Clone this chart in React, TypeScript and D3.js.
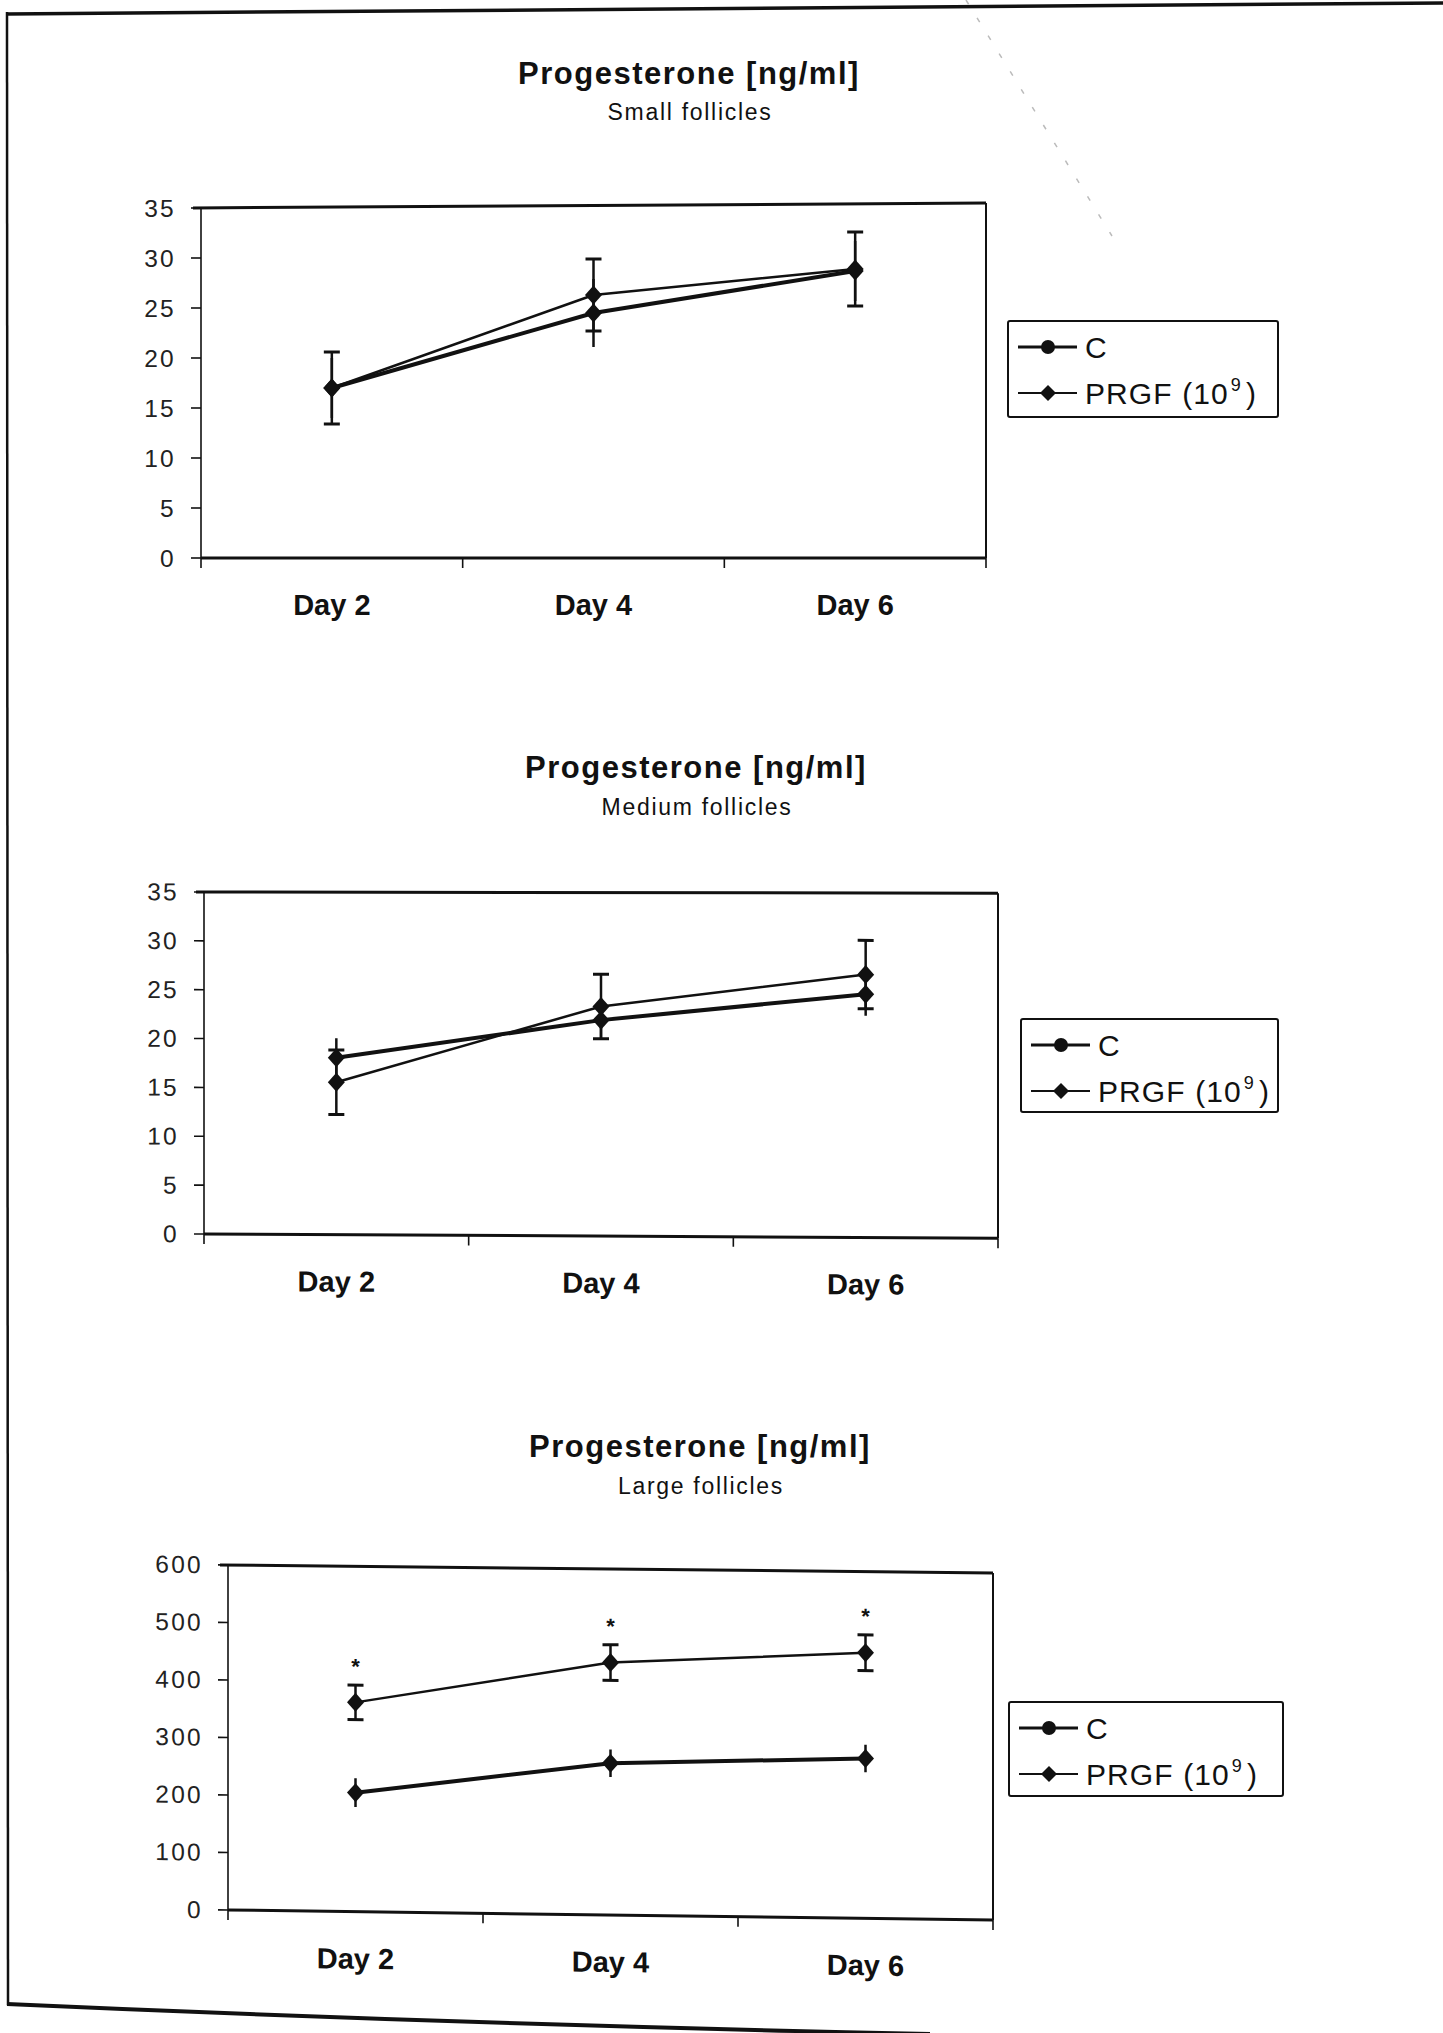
import React from 'react';
import * as d3 from 'd3';

const categories = ['Day 2', 'Day 4', 'Day 6'];

const smallC = [17.0, 24.5, 28.7];
const smallCErr = [3.0, 3.4, 3.0];
const smallPRGF = [17.0, 26.3, 28.9];
const smallPRGFErr = [3.6, 3.6, 3.7];

const mediumC = [18.1, 22.1, 24.9];
const mediumCErr = [2.0, 2.0, 2.2];
const mediumPRGF = [15.6, 23.5, 26.9];
const mediumPRGFErr = [3.3, 3.3, 3.5];

const largeC = [207, 264, 278];
const largeCErr = [25, 24, 24];
const largePRGF = [364, 439, 462];
const largePRGFErr = [30, 31, 31];
const largeSignificant = [true, true, true];

const smallTicks = [0, 5, 10, 15, 20, 25, 30, 35];
const mediumTicks = [0, 5, 10, 15, 20, 25, 30, 35];
const largeTicks = [0, 100, 200, 300, 400, 500, 600];

const titleText = 'Progesterone [ng/ml]';
const subtitles = ['Small follicles', 'Medium follicles', 'Large follicles'];

const FONT = '"Liberation Sans", Arial, sans-serif';

type PanelCfg = {
  left: number; right: number; top: number; bottom: number; topDy: number;
  yMax: number; ticks: number[];
  c: number[]; cErr: number[]; p: number[]; pErr: number[];
  stars?: boolean[];
  titleX: number; titleY: number; subX: number; subY: number; subtitle: string;
  legX: number; legY: number; legW: number; legH: number;
  skew: number;
};

const panels: PanelCfg[] = [
  {
    left: 201, right: 986, top: 208, bottom: 558, topDy: -5, yMax: 35, ticks: smallTicks,
    c: smallC, cErr: smallCErr, p: smallPRGF, pErr: smallPRGFErr,
    titleX: 689, titleY: 84, subX: 690, subY: 120, subtitle: subtitles[0],
    legX: 1008, legY: 321, legW: 270, legH: 96, skew: 0,
  },
  {
    left: 204, right: 998, top: 892, bottom: 1234, topDy: -3, yMax: 35, ticks: mediumTicks,
    c: mediumC, cErr: mediumCErr, p: mediumPRGF, pErr: mediumPRGFErr,
    titleX: 696, titleY: 778, subX: 697, subY: 815, subtitle: subtitles[1],
    legX: 1021, legY: 1019, legW: 257, legH: 93, skew: 0.3,
  },
  {
    left: 228, right: 993, top: 1565, bottom: 1910, topDy: -2, yMax: 600, ticks: largeTicks,
    c: largeC, cErr: largeCErr, p: largePRGF, pErr: largePRGFErr, stars: largeSignificant,
    titleX: 700, titleY: 1457, subX: 701, subY: 1494, subtitle: subtitles[2],
    legX: 1009, legY: 1702, legW: 274, legH: 94, skew: 0.75,
  },
];

function diamond(cx: number, cy: number, w: number, h: number) {
  return `M${cx},${cy - h}L${cx + w},${cy}L${cx},${cy + h}L${cx - w},${cy}Z`;
}

function Panel({ cfg }: { cfg: PanelCfg }) {
  const x = d3.scaleBand<string>().domain(categories).range([cfg.left, cfg.right]);
  const y = d3.scaleLinear().domain([0, cfg.yMax]).range([cfg.bottom, cfg.top]);
  const cx = (i: number) => (x(categories[i]) as number) + x.bandwidth() / 2;
  const line = d3.line<number>().x((_, i) => cx(i)).y((d) => y(d));
  const boundaries = [cfg.left, ...categories.map((c) => (x(c) as number) + x.bandwidth())];
  const transform = cfg.skew
    ? `translate(${cfg.left},${cfg.bottom}) skewY(${cfg.skew}) translate(${-cfg.left},${-cfg.bottom})`
    : undefined;
  const capW = 8;

  return (
    <g>
      <text x={cfg.titleX} y={cfg.titleY} textAnchor="middle" fontFamily={FONT} fontWeight="bold"
        fontSize={31} letterSpacing={1.5} fill="#111">{titleText}</text>
      <text x={cfg.subX} y={cfg.subY} textAnchor="middle" fontFamily={FONT}
        fontSize={23} letterSpacing={1.7} fill="#111">{cfg.subtitle}</text>
      <g transform={transform}>
        {/* plot frame */}
        <line x1={cfg.left - 8} x2={cfg.right} y1={cfg.top} y2={cfg.top + cfg.topDy} stroke="#111" strokeWidth={3} />
        <line x1={cfg.right} x2={cfg.right} y1={cfg.top + cfg.topDy} y2={cfg.bottom} stroke="#111" strokeWidth={2} />
        <line x1={cfg.left} x2={cfg.left} y1={cfg.top} y2={cfg.bottom} stroke="#111" strokeWidth={1.6} />
        <line x1={cfg.left} x2={cfg.right} y1={cfg.bottom} y2={cfg.bottom} stroke="#111" strokeWidth={3} />
        {/* y ticks */}
        {cfg.ticks.map((t) => (
          <g key={t}>
            <line x1={cfg.left - 10} x2={cfg.left} y1={y(t)} y2={y(t)} stroke="#111" strokeWidth={1.6} />
            <text x={cfg.left - 25} y={y(t) + 8.5} textAnchor="end" fontFamily={FONT} fontSize={24.5}
              letterSpacing={2.3} fill="#222">{t}</text>
          </g>
        ))}
        {/* x ticks */}
        {boundaries.map((b, i) => (
          <line key={i} x1={b} x2={b} y1={cfg.bottom} y2={cfg.bottom + 10} stroke="#111" strokeWidth={1.6} />
        ))}
        {categories.map((c, i) => (
          <text key={c} x={cx(i)} y={cfg.bottom + 57} textAnchor="middle" fontFamily={FONT}
            fontWeight="bold" fontSize={29} fill="#111">{c}</text>
        ))}
        {/* lines */}
        <path d={line(cfg.c) as string} fill="none" stroke="#111" strokeWidth={4} strokeLinejoin="round" />
        <path d={line(cfg.p) as string} fill="none" stroke="#111" strokeWidth={2.5} strokeLinejoin="round" />
        {/* error bars C (no caps) */}
        {cfg.c.map((v, i) => (
          <line key={'ce' + i} x1={cx(i)} x2={cx(i)} y1={y(v - cfg.cErr[i])} y2={y(v + cfg.cErr[i])}
            stroke="#111" strokeWidth={2.5} />
        ))}
        {/* error bars PRGF (caps) */}
        {cfg.p.map((v, i) => (
          <g key={'pe' + i}>
            <line x1={cx(i)} x2={cx(i)} y1={y(v - cfg.pErr[i])} y2={y(v + cfg.pErr[i])} stroke="#111" strokeWidth={2.5} />
            <line x1={cx(i) - capW} x2={cx(i) + capW} y1={y(v - cfg.pErr[i])} y2={y(v - cfg.pErr[i])} stroke="#111" strokeWidth={3} />
            <line x1={cx(i) - capW} x2={cx(i) + capW} y1={y(v + cfg.pErr[i])} y2={y(v + cfg.pErr[i])} stroke="#111" strokeWidth={3} />
          </g>
        ))}
        {/* markers */}
        {cfg.c.map((v, i) => (
          <path key={'cm' + i} d={diamond(cx(i), y(v), 8.5, 9.5)} fill="#111" />
        ))}
        {cfg.p.map((v, i) => (
          <path key={'pm' + i} d={diamond(cx(i), y(v), 8.5, 9.5)} fill="#111" />
        ))}
        {cfg.stars && cfg.stars.map((s, i) => s ? (
          <text key={'s' + i} x={cx(i)} y={y(cfg.p[i] + cfg.pErr[i] + 40) + 12} textAnchor="middle"
            fontFamily={FONT} fontWeight="bold" fontSize={22} fill="#111">*</text>
        ) : null)}
      </g>
      {/* legend */}
      <g>
        <rect x={cfg.legX} y={cfg.legY} width={cfg.legW} height={cfg.legH} fill="white" stroke="#111" strokeWidth={2} rx={2} />
        <line x1={cfg.legX + 10} x2={cfg.legX + 69} y1={cfg.legY + 26} y2={cfg.legY + 26} stroke="#111" strokeWidth={3} />
        <circle cx={cfg.legX + 40} cy={cfg.legY + 26} r={7} fill="#111" />
        <text x={cfg.legX + 77} y={cfg.legY + 26 + 10.5} fontFamily={FONT} fontSize={30} fill="#111">{'C'}</text>
        <line x1={cfg.legX + 10} x2={cfg.legX + 69} y1={cfg.legY + 72} y2={cfg.legY + 72} stroke="#111" strokeWidth={2} />
        <path d={diamond(cfg.legX + 40, cfg.legY + 72, 8, 8)} fill="#111" />
        <text x={cfg.legX + 77} y={cfg.legY + 72 + 10.5} fontFamily={FONT} fontSize={30} letterSpacing={1.1} fill="#111">
          {'PRGF (10'}
          <tspan fontSize={18} dx={2} dy={-13}>9</tspan>
          <tspan dx={4} dy={13}>)</tspan>
        </text>
      </g>
    </g>
  );
}

export default function App() {
  return (
    <svg width={1443} height={2033} viewBox="0 0 1443 2033"
      style={{ position: 'absolute', left: 0, top: 0, background: 'white', display: 'block' }}>
      <rect x={0} y={0} width={1443} height={2033} fill="white" />
      {/* page frame */}
      <path d="M7,14 L1443,3" stroke="#111" strokeWidth={3.5} fill="none" />
      <path d="M7,12 L8,2005" stroke="#111" strokeWidth={2.5} fill="none" />
      <path d="M7,2004 Q450,2024 930,2034" stroke="#111" strokeWidth={4} fill="none" />
      <path d="M966,0 L1112,236" stroke="#bbb" strokeWidth={1.5} strokeDasharray="5 16" fill="none" />
      {panels.map((p, i) => <Panel key={i} cfg={p} />)}
    </svg>
  );
}
